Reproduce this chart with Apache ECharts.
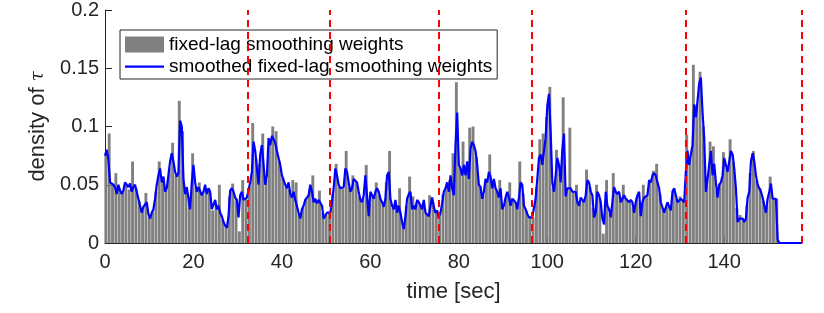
<!DOCTYPE html>
<html><head><meta charset="utf-8">
<script src="https://cdn.jsdelivr.net/npm/echarts@6/dist/echarts.min.js"></script>
<style>html,body{margin:0;padding:0;background:#fff}#c{width:824px;height:313px}</style>
</head><body><div id="c"></div>
<script>
// smoothed fixed-lag smoothing weights, sampled every LINE_DT seconds from t = 0
const LINE_DT = 0.3774;
const smoothedWeights = [
0.075,0.080,0.072,0.052,0.051,0.050,0.048,0.042,0.050,0.045,
0.042,0.045,0.052,0.051,0.048,0.051,0.044,0.048,0.050,0.044,
0.038,0.037,0.026,0.031,0.032,0.035,0.025,0.021,0.026,0.029,
0.038,0.050,0.058,0.064,0.052,0.057,0.044,0.047,0.058,0.070,
0.077,0.070,0.061,0.057,0.060,0.105,0.100,0.055,0.042,0.048,
0.047,0.029,0.052,0.067,0.052,0.044,0.048,0.047,0.041,0.044,
0.050,0.042,0.047,0.044,0.029,0.028,0.037,0.029,0.032,0.026,
0.023,0.018,0.015,0.013,0.023,0.045,0.047,0.044,0.039,0.037,
0.022,0.041,0.044,0.037,
0.038,0.039,0.038,0.052,0.061,0.087,0.079,0.064,0.050,0.076,
0.084,0.067,0.050,0.058,0.090,0.084,0.092,0.092,0.086,0.079,
0.073,0.067,0.058,0.054,0.050,0.047,0.052,0.042,0.039,0.044,
0.037,0.038,0.026,0.021,0.029,0.032,0.037,0.039,0.041,0.050,
0.044,0.035,0.038,0.034,0.037,0.038,0.032,0.021,0.022,0.026,
0.025,0.026,0.035,0.047,0.064,0.058,0.050,0.047,0.047,0.048,
0.064,0.061,0.052,0.044,0.047,0.055,0.054,0.052,0.044,0.037,
0.035,0.041,0.058,0.058,0.023,0.044,0.041,0.038,0.044,0.047,
0.044,0.038,0.035,0.031,
0.038,0.058,0.061,0.038,0.032,0.029,0.037,0.026,0.032,0.026,
0.018,0.012,0.023,0.038,0.042,0.044,0.029,0.032,0.029,0.037,
0.035,0.032,0.029,0.037,0.026,0.025,0.023,0.032,0.039,0.031,
0.026,0.028,0.021,0.026,0.034,0.044,0.047,0.052,0.044,0.058,
0.047,0.041,0.084,0.112,0.067,0.064,0.058,0.067,0.058,0.070,
0.055,0.081,0.087,0.084,0.079,0.067,0.050,0.048,0.038,0.044,
0.055,0.052,0.061,0.057,0.047,0.055,0.047,0.044,0.039,0.047,
0.029,0.032,0.039,0.044,0.039,0.032,0.038,0.039,0.035,0.029,
0.039,0.052,0.050,0.032,
0.029,0.025,0.022,0.022,0.022,0.023,0.038,0.055,0.073,0.076,
0.067,0.079,0.090,0.118,0.128,0.096,0.052,0.044,0.058,0.073,
0.067,0.052,0.080,0.094,0.040,0.047,0.048,0.047,0.044,0.044,
0.044,0.035,0.032,0.039,0.038,0.035,0.041,0.054,0.052,0.044,
0.041,0.022,0.026,0.044,0.041,0.035,0.021,0.016,0.044,0.032,
0.029,0.022,0.035,0.048,0.044,0.042,0.044,0.035,0.038,0.041,
0.038,0.039,0.035,0.037,0.035,0.026,0.035,0.041,0.044,0.023,
0.035,0.039,0.038,0.041,0.054,0.052,0.058,0.060,0.058,0.052,
0.047,0.035,0.034,0.026,
0.025,0.035,0.031,0.028,0.044,0.047,0.041,0.035,0.035,0.038,
0.038,0.035,0.061,0.079,0.067,0.076,0.084,0.119,0.108,0.122,
0.137,0.142,0.112,0.090,0.044,0.055,0.067,0.079,0.058,0.068,
0.052,0.039,0.050,0.052,0.058,0.073,0.067,0.061,0.070,0.079,
0.076,0.064,0.047,0.018,0.021,0.022,0.021,0.018,0.021,0.039,
0.044,0.070,0.077,0.070,0.058,0.050,0.050,0.044,0.039,0.032,
0.026,0.038,0.044,0.051,0.038,0.038,0.038,0.003,0,0,
0,0,0,0,0,0,0,0,0,0,
0,0
];

// fixed-lag smoothing weights (bars), one every BAR_DT seconds starting at BAR_T0
const BAR_T0 = 0.19;
const BAR_DT = 0.7548;
const fixedLagWeights = [
0.076,0.094,0.050,0.060,0.047,0.044,0.051,0.046,0.070,0.047,
0.036,0.028,0.043,0.022,0.027,0.044,0.070,0.054,0.045,0.064,
0.086,0.058,0.122,0.096,0.045,0.040,0.077,0.048,0.052,0.042,
0.046,0.045,0.028,0.033,0.050,0.020,0.014,0.040,0.051,0.038,
0.010,0.054,
0.038,0.048,0.103,0.072,0.068,0.094,0.054,0.086,0.100,0.096,
0.070,0.056,0.048,0.046,0.054,0.052,0.024,0.030,0.038,0.046,
0.058,0.036,0.045,0.026,0.024,0.026,0.042,0.068,0.048,0.047,
0.079,0.048,0.058,0.052,0.040,0.038,0.067,0.034,0.040,0.052,
0.041,0.033,
0.052,0.079,0.030,0.033,0.047,0.016,0.032,0.057,0.040,0.034,
0.033,0.034,0.025,0.041,0.035,0.027,0.022,0.042,0.050,0.054,
0.077,0.138,0.065,0.087,0.064,0.099,0.100,0.074,0.049,0.041,
0.053,0.076,0.051,0.045,0.054,0.030,0.042,0.052,0.038,0.032,
0.070,0.042,
0.027,0.022,0.022,0.048,0.089,0.094,0.108,0.134,0.048,0.080,
0.060,0.125,0.044,0.099,0.044,0.050,0.036,0.036,0.063,0.048,
0.030,0.050,0.038,0.008,0.054,0.025,0.060,0.043,0.040,0.050,
0.038,0.036,0.030,0.039,0.034,0.050,0.040,0.053,0.062,0.068,
0.042,0.030,
0.031,0.030,0.046,0.038,0.040,0.036,0.093,0.072,0.153,0.118,
0.147,0.100,0.050,0.087,0.083,0.045,0.051,0.078,0.064,0.089,
0.070,0.030,0.024,0.019,0.032,0.060,0.079,0.054,0.047,0.036,
0.032,0.057,0.038,0.038
];

// red dashed segment boundaries [sec]
const phaseBoundaries = [32.2, 50.9, 75.4, 96.4, 131.3, 157.5];
const xTickValues = [0, 20, 40, 60, 80, 100, 120, 140];
const X_MAX = 157.6;
const Y_MAX = 0.2, Y_STEP = 0.05;

const FONT = 'Arial, "Liberation Sans", Helvetica, sans-serif';
const AX = '#262626';
// legend icon for the line: a thin horizontal bar inside a 39x16 box
const LINE_ICON = 'path://M0,0L0.01,0L0,0.01ZM0,7L39,7L39,9.2L0,9.2ZM39,16L38.99,16L39,15.99Z';

const lineData = smoothedWeights.map((v, i) => [i * LINE_DT, v]);
const barData = fixedLagWeights.map((v, j) => [BAR_T0 + j * BAR_DT, v]);

const chart = echarts.init(document.getElementById('c'), null, {renderer: 'canvas'});
chart.setOption({
  animation: false,
  backgroundColor: '#fff',
  grid: {left: 105, right: 22, top: 10, bottom: 70},
  legend: {
    left: 120, top: 30, orient: 'vertical',
    backgroundColor: '#fff', borderColor: AX, borderWidth: 1, borderRadius: 0,
    padding: [5, 5, 3, 5], itemGap: 3, itemWidth: 39, itemHeight: 16,
    textStyle: {fontSize: 19, color: '#000', fontFamily: FONT, lineHeight: 18},
    data: [
      {name: 'fixed-lag smoothing weights', icon: 'rect'},
      {name: 'smoothed fixed-lag smoothing weights', icon: LINE_ICON, itemStyle: {color: '#0000ff', borderWidth: 0}}
    ]
  },
  xAxis: {
    type: 'value', min: 0, max: X_MAX,
    name: 'time [sec]', nameLocation: 'middle', nameGap: 38,
    nameTextStyle: {fontSize: 22, color: AX, fontFamily: FONT},
    axisLine: {show: true, onZero: false, lineStyle: {color: AX, width: 1}},
    axisTick: {show: true, inside: true, length: 7, customValues: xTickValues, lineStyle: {color: AX}},
    axisLabel: {customValues: xTickValues, fontSize: 20, color: AX, margin: 9, fontFamily: FONT},
    splitLine: {show: false}
  },
  yAxis: {
    type: 'value', min: 0, max: Y_MAX, interval: Y_STEP,
    name: 'density of {t|τ}', nameLocation: 'middle', nameGap: 48,
    nameTextStyle: {fontSize: 22, color: AX, fontFamily: FONT,
      rich: {t: {fontSize: 18, fontStyle: 'italic', fontFamily: '"DejaVu Serif", serif', color: AX}}},
    axisLine: {show: true, lineStyle: {color: AX, width: 1}},
    axisTick: {show: true, inside: true, length: 7, lineStyle: {color: AX}},
    axisLabel: {fontSize: 20, color: AX, margin: 6, fontFamily: FONT},
    splitLine: {show: false}
  },
  series: [
    {
      name: 'fixed-lag smoothing weights', type: 'bar', data: barData,
      barWidth: 2.9, itemStyle: {color: '#808080'}, z: 1
    },
    {
      name: 'smoothed fixed-lag smoothing weights', type: 'line', data: lineData,
      symbol: 'none', showSymbol: false,
      lineStyle: {color: '#0000ff', width: 2.2}, itemStyle: {color: '#0000ff'}, z: 2
    },
    {
      type: 'line', data: [], z: 3,
      markLine: {
        silent: true, symbol: ['none', 'none'], label: {show: false},
        lineStyle: {color: '#ff0000', type: [7, 5], width: 2},
        data: phaseBoundaries.map(v => ({xAxis: v}))
      }
    }
  ]
});
</script></body></html>
